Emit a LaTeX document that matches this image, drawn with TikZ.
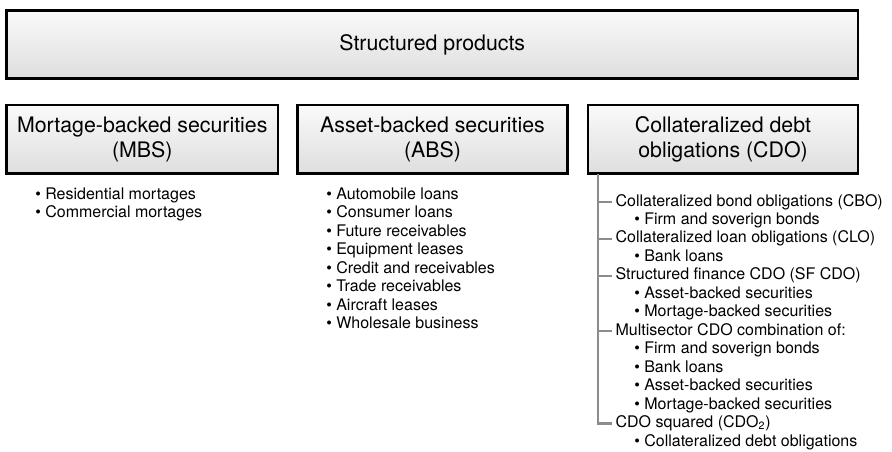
\documentclass[tikz,border=0pt]{standalone}
\usepackage{fontspec}
\setmainfont{TeX Gyre Heros}
\begin{document}
\begin{tikzpicture}[x=0.75pt,y=-0.75pt,
  catbox/.style={draw=black, line width=2.2pt, top color=white!98!black, bottom color=white!87!black,
    align=center, inner sep=0pt, font=\fontsize{16}{18.5}\selectfont},
  item/.style={anchor=west, inner sep=0pt, text height=8.6pt, text depth=2.5pt,
    font=\fontsize{12}{14}\selectfont},
  head/.style={item, inner xsep=2.5pt},
  tree/.style={draw=black!45, line width=1.9pt}]
\useasboundingbox (0,0) rectangle (892,451);
% boxes
\node[catbox, minimum width=638.6pt, minimum height=51pt] (sp) at (432.25,44.5) {Structured products};
\node[catbox, minimum width=203.6pt, minimum height=51.4pt] (mbs) at (142.25,139.25) {Mortage-backed securities\\(MBS)};
\node[catbox, minimum width=202.5pt, minimum height=51.4pt] (abs) at (432.5,139.25) {Asset-backed securities\\(ABS)};
\node[catbox, minimum width=202.5pt, minimum height=51.4pt] (cdo) at (723,139.25) {Collateralized debt\\obligations (CDO)};
% MBS list
\node[item] (m1) at (35,195) {• Residential mortages};
\node[item] (m2) at (35,213.5) {• Commercial mortages};
% ABS list
\node[item] (a1) at (326,195) {• Automobile loans};
\node[item] (a2) at (326,213.5) {• Consumer loans};
\node[item] (a3) at (326,232) {• Future receivables};
\node[item] (a4) at (326,250.5) {• Equipment leases};
\node[item] (a5) at (326,269) {• Credit and receivables};
\node[item] (a6) at (326,287.5) {• Trade receivables};
\node[item] (a7) at (326,306) {• Aircraft leases};
\node[item] (a8) at (326,324.5) {• Wholesale business};
% CDO list
\node[head] (h1) at (612,202) {Collateralized bond obligations (CBO)};
\node[item] (s1) at (634,220.5) {• Firm and soverign bonds};
\node[head] (h2) at (612,238.9) {Collateralized loan obligations (CLO)};
\node[item] (s2) at (634,257.4) {• Bank loans};
\node[head] (h3) at (612,275.8) {Structured finance CDO (SF CDO)};
\node[item] (s3) at (634,294.3) {• Asset-backed securities};
\node[item] (s4) at (634,312.8) {• Mortage-backed securities};
\node[head] (h4) at (612,331.2) {Multisector CDO combination of:};
\node[item] (s5) at (634,349.7) {• Firm and soverign bonds};
\node[item] (s6) at (634,368.1) {• Bank loans};
\node[item] (s7) at (634,386.6) {• Asset-backed securities};
\node[item] (s8) at (634,405.1) {• Mortage-backed securities};
\node[head] (h5) at (612,423.5) {CDO squared (CDO\textsubscript{2})};
\node[item] (s9) at (634,442) {• Collateralized debt obligations};
% tree
\coordinate (trunk) at (598,174);
\draw[tree] (trunk) |- (h5.west);
\foreach \h in {h1,h2,h3,h4} \draw[tree] (\h.west -| trunk) -- (\h.west);
\end{tikzpicture}
\end{document}
